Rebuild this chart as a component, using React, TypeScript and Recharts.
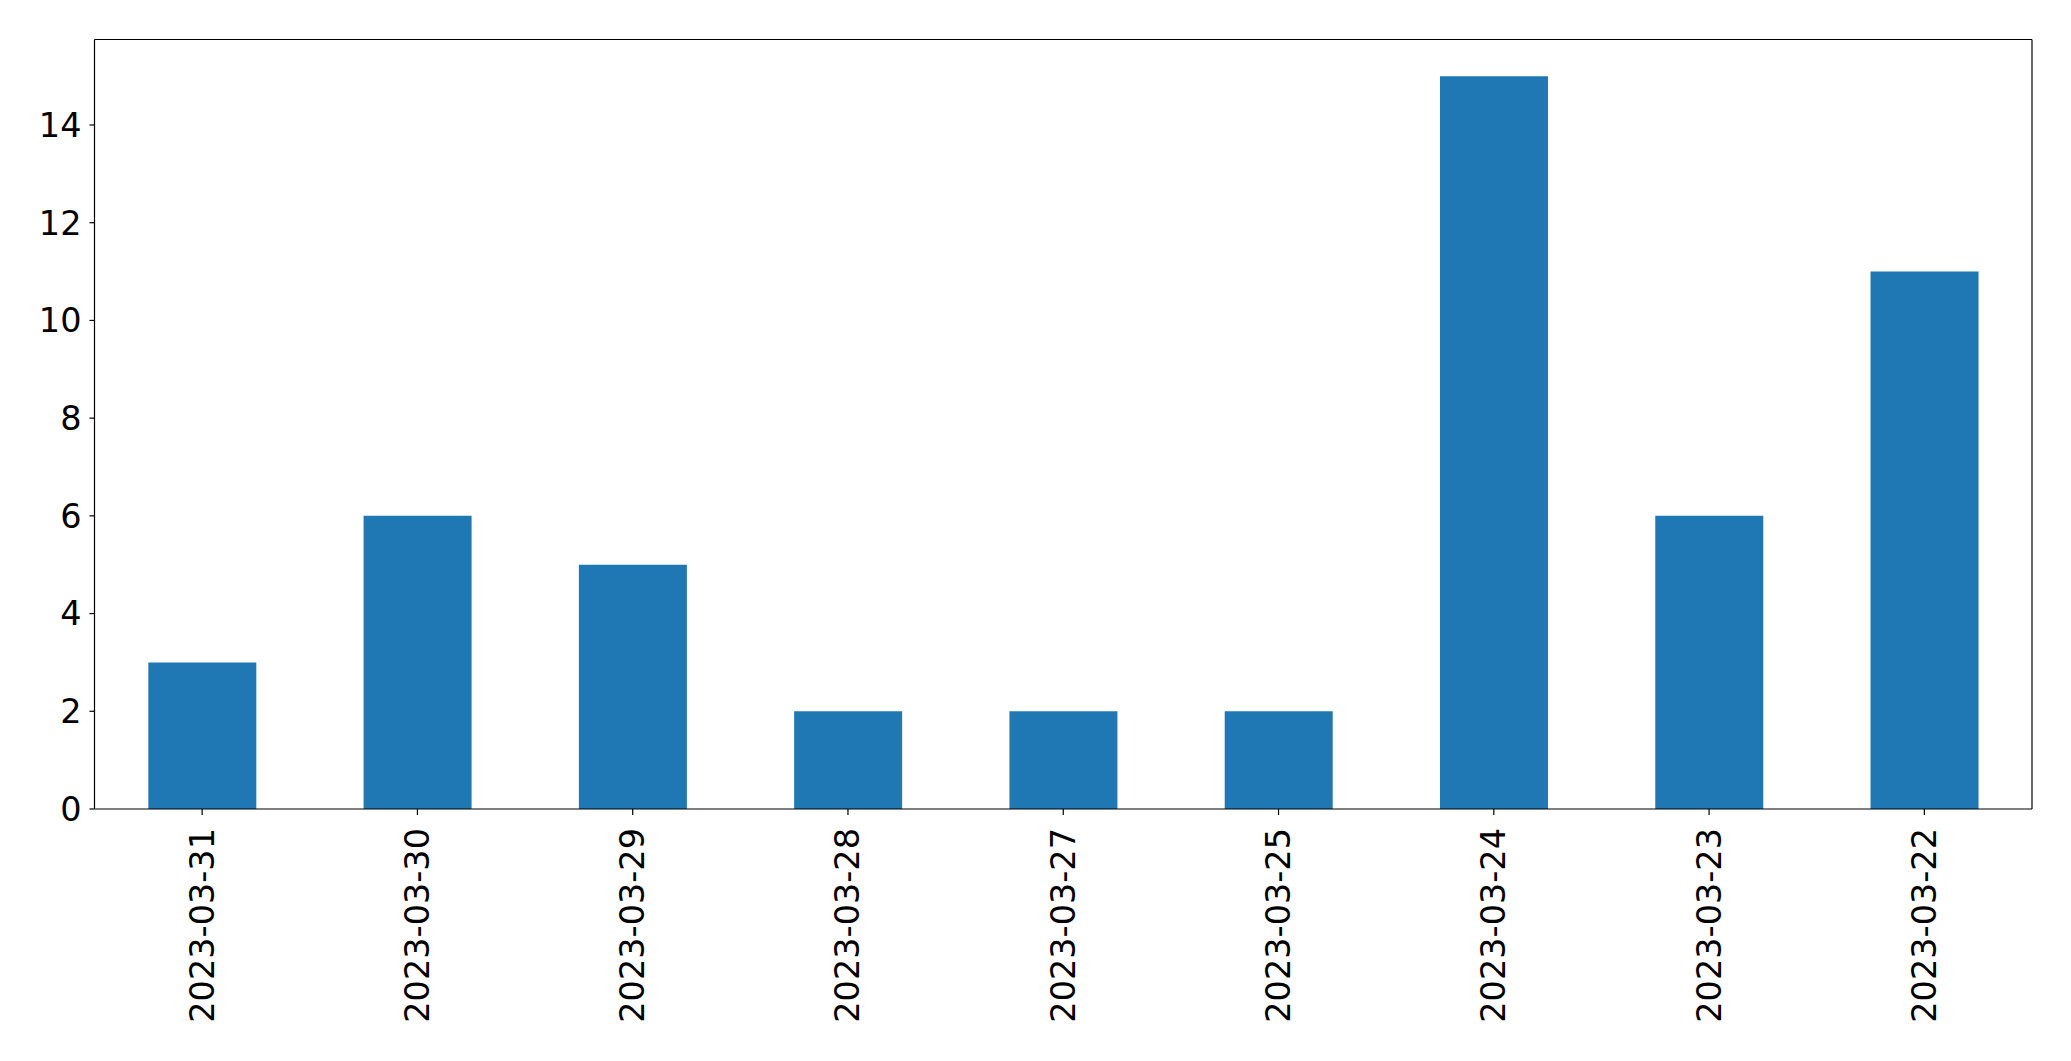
import React from "react";
import { Bar, BarChart, XAxis, YAxis } from "recharts";

const dates = [
  "2023-03-31",
  "2023-03-30",
  "2023-03-29",
  "2023-03-28",
  "2023-03-27",
  "2023-03-25",
  "2023-03-24",
  "2023-03-23",
  "2023-03-22",
];
const counts = [3, 6, 5, 2, 2, 2, 15, 6, 11];
const yTicks = [0, 2, 4, 6, 8, 10, 12, 14];

const data = dates.map((d, i) => ({ name: d, value: counts[i] }));

const font = "DejaVu Sans";
const line = { stroke: "#000", strokeWidth: 1.2 };

const RotatedTick = ({ x, y, payload }: any) => (
  <text
    x={x}
    y={y}
    transform={`rotate(-90, ${x}, ${y})`}
    textAnchor="end"
    dominantBaseline="central"
    fontSize={33.5}
    fontFamily={font}
    fill="#000"
  >
    {payload.value}
  </text>
);

export default function App() {
  return (
    <div style={{ position: "absolute", left: 0, top: 0, background: "#fff" }}>
      <BarChart
        width={2071}
        height={1061}
        data={data}
        margin={{ top: 38.5, right: 38, left: 0.5, bottom: 0 }}
        barCategoryGap="25%"
      >
        <XAxis
          dataKey="name"
          height={252}
          interval={0}
          tick={<RotatedTick />}
          tickSize={6}
          tickMargin={13}
          axisLine={line}
          tickLine={line}
        />
        {/* top and right spines */}
        <XAxis
          xAxisId="top"
          dataKey="name"
          orientation="top"
          height={1}
          tick={false}
          tickLine={false}
          axisLine={line}
        />
        <YAxis
          width={94}
          domain={[0, 15.75]}
          ticks={yTicks}
          allowDataOverflow
          tickSize={5}
          tickMargin={8}
          tick={{ fontSize: 33.5, fill: "#000", fontFamily: font }}
          axisLine={line}
          tickLine={line}
        />
        <YAxis
          yAxisId="right"
          orientation="right"
          width={1}
          domain={[0, 15.75]}
          tick={false}
          tickLine={false}
          axisLine={line}
        />
        <Bar dataKey="value" fill="#1f77b4" isAnimationActive={false} />
      </BarChart>
    </div>
  );
}
